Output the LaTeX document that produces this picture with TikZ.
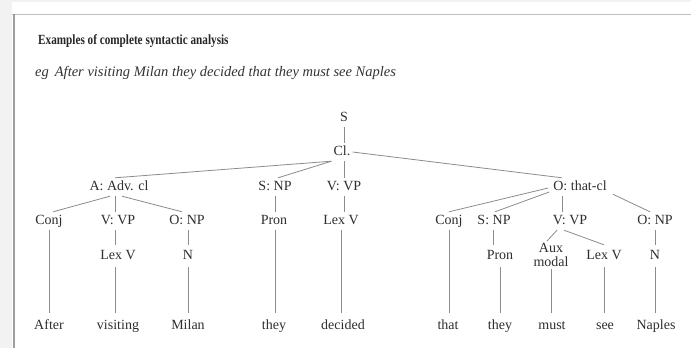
\documentclass[tikz,border=0pt]{standalone}
\usepackage{fontspec}
\usepackage{graphicx}
\setmainfont{Liberation Serif}
\usetikzlibrary{calc}
\tikzset{
  lbl/.style={anchor=base, text=black!82, font=\fontsize{14}{14}\selectfont,
    text height=9pt, text depth=3pt, inner xsep=2pt, inner ysep=3pt},
  midlbl/.style={lbl, inner ysep=5pt},
  leaf/.style={lbl, inner ysep=7pt},
  edge/.style={draw=black!45, line width=0.8pt},
}
\begin{document}
\begin{tikzpicture}[x=1pt,y=-1pt]
\useasboundingbox (0,0) rectangle (691,348);
\fill[white] (0,0) rectangle (691,348);
\fill[black!5] (0,0) rectangle (12,348);
\fill[black!5] (0,0) rectangle (691,2);
\draw[black!25, line width=1.5pt] (12,14.5) -- (691,14.5);
\draw[black!38, line width=1.8pt] (14,14) -- (14,348);

% headings
\node[anchor=base west, inner sep=0pt, text=black!85] (title) at (38,44)
  {\scalebox{0.8}[1]{\fontsize{14}{14}\selectfont\bfseries Examples of complete syntactic analysis}};
\node[anchor=base west, inner sep=0pt, text=black!80] (example) at (35,76)
  {\fontsize{14.5}{14.5}\selectfont\itshape eg\hspace{6pt}After visiting Milan they decided that they must see Naples};

% tree nodes
\node[lbl] (s) at (344,121) {S};
\node[lbl] (cl) at (342,155) {Cl.};

\node[lbl] (adv) at (119,190) {A: Adv. cl};
\node[lbl] (snp) at (275,190) {S: NP};
\node[lbl] (vvp) at (344,190) {V: VP};
\node[lbl] (othat) at (580,190) {O: that-cl};

\node[lbl] (conja) at (49,224) {Conj};
\node[lbl] (vvpa) at (118,224) {V: VP};
\node[lbl] (onpa) at (187,224) {O: NP};
\node[lbl] (prona) at (274,224) {Pron};
\node[lbl] (lexvb) at (341,224) {Lex V};
\node[lbl] (conjb) at (449,224) {Conj};
\node[lbl] (snpb) at (494,224) {S: NP};
\node[lbl] (vvpb) at (570,224) {V: VP};
\node[lbl] (onpb) at (655,224) {O: NP};

\node[midlbl] (lexva) at (118,259) {Lex V};
\node[midlbl] (na) at (188,259) {N};
\node[midlbl] (pronb) at (500,259) {Pron};
\node[anchor=north, text=black!82, align=center, inner sep=2pt,
  font=\fontsize{14}{14}\selectfont] (aux) at (551,241) {Aux\\modal};
\node[midlbl] (lexvc) at (604,259) {Lex V};
\node[midlbl] (nb) at (655,259) {N};

\node[leaf] (after) at (49,329) {After};
\node[leaf] (visiting) at (118,329) {visiting};
\node[leaf] (milan) at (188,329) {Milan};
\node[leaf] (theya) at (274,329) {they};
\node[leaf] (decided) at (343,329) {decided};
\node[leaf] (that) at (448,329) {that};
\node[leaf] (theyb) at (500,329) {they};
\node[leaf] (must) at (552,329) {must};
\node[leaf] (see) at (605,329) {see};
\node[leaf] (naples) at (656,329) {Naples};

% edges
\path[edge] (s.south) -- (cl.north -| s.south);
\path[edge] (cl.south west) -- ($(adv.north)+(-4,0)$);
\path[edge] (cl.south west) -- ($(snp.north)+(3,0)$);
\path[edge] (cl.south -| s.south) -- (vvp.north);
\path[edge] (cl.east) -- ($(othat.north)+(-18,0)$);

\path[edge] ($(adv.south)+(-9,0)$) -- ($(conja.north)+(4,0)$);
\path[edge] ($(adv.south)+(-4,0)$) -- ($(vvpa.north)+(-3,0)$);
\path[edge] ($(adv.south)+(3,0)$) -- ($(onpa.north)+(-5,0)$);
\path[edge] (snp.south) -- (snp.south |- prona.north);
\path[edge] (vvp.south) -- (vvp.south |- lexvb.north);

\path[edge] ($(othat.west)+(-3,1)$) -- (conjb.north);
\path[edge] ($(othat.west)+(-2,5)$) -- ($(snpb.north)+(1,0)$);
\path[edge] ($(othat.south)+(-18,0)$) -- ($(vvpb.north)+(-8,0)$);
\path[edge] ($(othat.south east)+(4,-2)$) -- ($(onpb.north)+(-5,0)$);

\path[edge] (conja.south) -- (after.north);
\path[edge] ($(vvpa.south)+(-3,0)$) -- ($(lexva.north)+(-3,0)$);
\path[edge] ($(lexva.south)+(-3,0)$) -- ($(visiting.north)+(-3,0)$);
\path[edge] (onpa.south -| na) -- (na.north);
\path[edge] (na.south) -- (milan.north);
\path[edge] (prona.south -| snp.south) -- (theya.north -| snp.south);
\path[edge] (lexvb.south) -- (decided.north -| lexvb.south);

\path[edge] (conjb.south) -- (that.north -| conjb.south);
\path[edge] ($(snpb.south)+(-1,0)$) -- ($(snpb.south |- pronb.north)+(-1,0)$);
\path[edge] (pronb.south) -- (theyb.north);
\path[edge] ($(vvpb.south)+(-13,0)$) -- ($(aux.north)+(-4,0)$);
\path[edge] ($(vvpb.south)+(-6,0)$) -- (lexvc.north);
\path[edge] (aux.south) -- (must.north -| aux.south);
\path[edge] (lexvc.south) -- (see.north -| lexvc.south);
\path[edge] (onpb.south) -- (nb.north);
\path[edge] (nb.south) -- (naples.north -| nb.south);
\end{tikzpicture}
\end{document}
